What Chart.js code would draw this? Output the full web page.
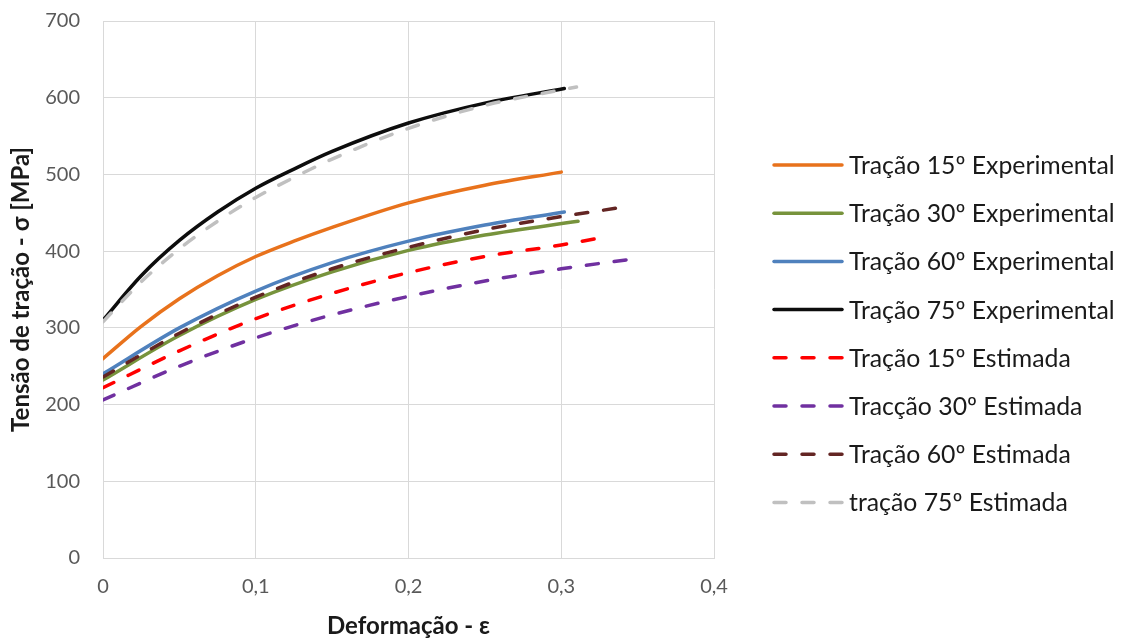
<!DOCTYPE html>
<html>
<head>
<meta charset="utf-8">
<script src="https://cdn.jsdelivr.net/npm/chart.js@4"></script>
<style>
  html, body { margin: 0; padding: 0; background: #fff; }
  #wrap { width: 1124px; height: 641px; }
</style>
</head>
<body>
<div id="wrap"><canvas id="chart" width="1124" height="641"></canvas></div>
<script>
// strain values (x) and stress values (MPa)
const x15exp = [0, 0.025, 0.05, 0.075, 0.1, 0.125, 0.15, 0.2, 0.25, 0.3];
const y15exp = [260, 302, 338, 368, 393, 413, 431, 463, 486, 503];
const x30exp = [0, 0.05, 0.1, 0.15, 0.2, 0.25, 0.311];
const y30exp = [232, 290, 337, 373, 401, 421, 439];
const x60exp = [0, 0.05, 0.1, 0.15, 0.2, 0.25, 0.302];
const y60exp = [240, 300, 348, 385, 413, 434, 451];
const x75exp = [0, 0.025, 0.05, 0.075, 0.1, 0.125, 0.15, 0.2, 0.25, 0.302];
const y75exp = [310, 368, 414, 451, 482, 507, 530, 567, 593, 612];
const x15est = [0, 0.05, 0.1, 0.15, 0.2, 0.25, 0.3, 0.322];
const y15est = [222, 270, 312, 345, 372, 393, 408, 416];
const x30est = [0, 0.05, 0.1, 0.15, 0.2, 0.25, 0.3, 0.344];
const y30est = [206, 250, 287, 317, 341, 361, 377, 389];
const x60est = [0, 0.05, 0.1, 0.15, 0.2, 0.25, 0.3, 0.336];
const y60est = [236, 293, 340, 377, 405, 428, 445, 456];
const x75est = [0, 0.025, 0.05, 0.075, 0.1, 0.125, 0.15, 0.2, 0.25, 0.31];
const y75est = [308, 360, 403, 439, 470, 496, 520, 560, 590, 614];

const seriesLabels = [
  'Tração 15º Experimental',
  'Tração 30º Experimental',
  'Tração 60º Experimental',
  'Tração 75º Experimental',
  'Tração 15º Estimada',
  'Tracção 30º Estimada',
  'Tração 60º Estimada',
  'tração 75º Estimada'
];
const seriesX = [x15exp, x30exp, x60exp, x75exp, x15est, x30est, x60est, x75est];
const seriesY = [y15exp, y30exp, y60exp, y75exp, y15est, y30est, y60est, y75est];
const seriesColors = ['#E8721C', '#77933C', '#4F81BD', '#0D0D0D', '#FF0000', '#7030A0', '#632523', '#C0C0C0'];
const seriesDashed = [false, false, false, false, true, true, true, true];

const yTicks = [0, 100, 200, 300, 400, 500, 600, 700];
const xTicks = [0, 0.1, 0.2, 0.3, 0.4];

const FONT = 'Lato, "Open Sans", sans-serif';
const DASH = [12, 16];

function makeDataset(i) {
  return {
    label: seriesLabels[i],
    data: seriesX[i].map((x, k) => ({ x: x, y: seriesY[i][k] })),
    borderColor: seriesColors[i],
    backgroundColor: seriesColors[i],
    borderWidth: 3.5,
    borderDash: seriesDashed[i] ? DASH : [],
    borderCapStyle: 'round',
    pointRadius: 0,
    tension: 0.4,
    cubicInterpolationMode: 'monotone',
    fill: false,
    order: seriesLabels.length - i
  };
}

// legend drawn on the canvas to the right of the plot
const sideLegend = {
  id: 'sideLegend',
  afterDraw(chart) {
    const ctx = chart.ctx;
    ctx.save();
    ctx.font = '24.8px ' + FONT;
    ctx.textBaseline = 'middle';
    ctx.fillStyle = '#1a1a1a';
    chart.data.datasets.forEach((ds, i) => {
      const y = 165 + i * 48.2;
      ctx.beginPath();
      ctx.strokeStyle = ds.borderColor;
      ctx.lineWidth = 3.5;
      ctx.lineCap = 'round';
      ctx.setLineDash(ds.borderDash);
      ctx.moveTo(774, y);
      ctx.lineTo(842, y);
      ctx.stroke();
      ctx.setLineDash([]);
      ctx.fillText(ds.label, 849, y + 1);
    });
    ctx.restore();
  }
};

const ctx = document.getElementById('chart').getContext('2d');
new Chart(ctx, {
  type: 'line',
  data: { datasets: seriesLabels.map((_, i) => makeDataset(i)) },
  options: {
    responsive: false,
    animation: false,
    layout: { padding: { top: 21, right: 410, left: 0, bottom: 0 } },
    plugins: {
      legend: { display: false },
      tooltip: { enabled: false }
    },
    scales: {
      x: {
        type: 'linear',
        min: 0,
        max: 0.4,
        afterBuildTicks: (scale) => { scale.ticks = xTicks.map(v => ({ value: v })); },
        afterFit: (scale) => { scale.height = 83; },
        grid: { color: '#D9D9D9', lineWidth: 1, drawTicks: false },
        border: { color: '#D9D9D9' },
        ticks: {
          padding: 17,
          color: '#595959',
          font: { family: FONT, size: 20 },
          callback: (v) => v === 0 ? '0' : v.toFixed(1).replace('.', ',')
        },
        title: {
          display: true,
          text: 'Deformação - ε',
          color: '#1a1a1a',
          font: { family: FONT, size: 24, weight: 'bold' },
          padding: { top: 0, bottom: 0 }
        }
      },
      y: {
        min: 0,
        max: 700,
        afterBuildTicks: (scale) => { scale.ticks = yTicks.map(v => ({ value: v })); },
        afterFit: (scale) => {
          scale.width = 103;
          scale.paddingTop = 0;
          scale.paddingBottom = 0;
        },
        grid: { color: '#D9D9D9', lineWidth: 1, drawTicks: false },
        border: { color: '#D9D9D9' },
        ticks: {
          padding: 23,
          color: '#595959',
          font: { family: FONT, size: 20 }
        },
        title: {
          display: true,
          text: 'Tensão de tração - σ [MPa]',
          color: '#1a1a1a',
          font: { family: FONT, size: 24, weight: 'bold' },
          padding: { top: 7, bottom: 0 }
        }
      }
    }
  },
  plugins: [sideLegend]
});
</script>
</body>
</html>
